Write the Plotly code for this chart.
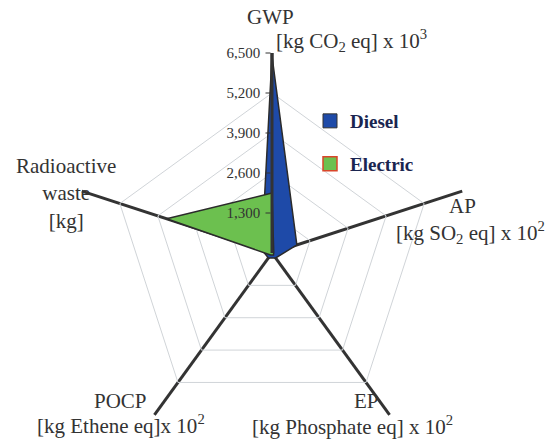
import plotly.graph_objects as go

categories = ["GWP", "AP", "EP", "POCP", "Radioactive waste"]
diesel = [6400, 850, 200, 200, 350]
electric = [1950, 60, 80, 80, 3600]
tick_vals = [1300, 2600, 3900, 5200, 6500]
tick_text = ["1,300", "2,600", "3,900", "5,200", "6,500"]

FONT = "Liberation Serif"
TXT = "#333333"
BLUE = "#1e4aa8"
GREEN = "#6cc04f"
W, H = 548, 470  # page window is 441 tall; lower part is hidden

def closed(v):
    return v + v[:1]

fig = go.Figure()
fig.add_trace(go.Scatterpolar(
    r=closed(diesel), theta=closed(categories), name="Diesel",
    fill="toself", fillcolor=BLUE, mode="lines",
    line=dict(color="#2b2b2b", width=1.5), showlegend=False))
fig.add_trace(go.Scatterpolar(
    r=closed(electric), theta=closed(categories), name="Electric",
    fill="toself", fillcolor=GREEN, mode="lines",
    line=dict(color="#2b2b2b", width=1.5), showlegend=False))
# legend entries
fig.add_trace(go.Scatterpolar(
    r=[None], theta=[None], name="<b>Diesel</b>", mode="markers",
    marker=dict(symbol="square", size=14, color=BLUE, line=dict(color="#333333", width=1)),
    legend="legend"))
fig.add_trace(go.Scatterpolar(
    r=[None], theta=[None], name="<b>Electric</b>", mode="markers",
    marker=dict(symbol="square", size=14, color=GREEN, line=dict(color="#d9462a", width=1.5)),
    legend="legend2"))

cx, cy, R = 272, 253, 200
fig.update_layout(
    width=W, height=H,
    showlegend=True,
    margin=dict(l=0, r=0, t=0, b=0),
    paper_bgcolor="white", plot_bgcolor="white",
    font=dict(family=FONT, color=TXT, size=15),
    polar=dict(
        domain=dict(x=[(cx - R)/W, (cx + R)/W], y=[1 - (cy + R)/H, 1 - (cy - R)/H]),
        bgcolor="white",
        gridshape="linear",
        radialaxis=dict(range=[0, 6500], tickvals=tick_vals, ticktext=tick_text,
                        angle=90, tickangle=90, side="counterclockwise",
                        showline=True, linecolor="#333333", linewidth=3,
                        ticks="outside", ticklen=5, tickcolor="#333333",
                        gridcolor="#d0d4d8", gridwidth=1,
                        tickfont=dict(family=FONT, size=15, color=TXT)),
        angularaxis=dict(categoryarray=categories, rotation=90, direction="clockwise",
                         showticklabels=False, ticks="", showline=False,
                         gridcolor="#333333", gridwidth=3),
    ),
    legend=dict(x=310/W, y=1 - 121/H, xanchor="left", yanchor="middle",
                bgcolor="rgba(0,0,0,0)", font=dict(family=FONT, size=19, color="#1a2550")),
    legend2=dict(x=310/W, y=1 - 164/H, xanchor="left", yanchor="middle",
                 bgcolor="rgba(0,0,0,0)", font=dict(family=FONT, size=19, color="#1a2550")),
)

def ann(text, x, y, xanchor="center", size=21, align="center"):
    fig.add_annotation(text=text, x=x/W, y=1 - y/H, xref="paper", yref="paper",
                       xanchor=xanchor, yanchor="middle", showarrow=False, align=align,
                       font=dict(family=FONT, size=size, color=TXT))

ann("GWP", 270, 17)
ann("[kg CO<sub>2</sub> eq] x 10<sup>3</sup>", 274, 40, xanchor="left")
ann("AP", 478, 206, xanchor="right")
ann("[kg SO<sub>2</sub> eq] x 10<sup>2</sup>", 547, 232, xanchor="right")
ann("EP", 366, 401)
ann("[kg Phosphate eq] x 10<sup>2</sup>", 250, 425, xanchor="left")
ann("POCP", 120, 401)
ann("[kg Ethene eq]x 10<sup>2</sup>", 35, 424, xanchor="left")
ann("Radioactive<br>waste<br>[kg]", 66, 193)

fig.write_html("out.html", config={"displayModeBar": False},
               post_script="document.body.style.margin='0';document.body.style.overflow='hidden';")
